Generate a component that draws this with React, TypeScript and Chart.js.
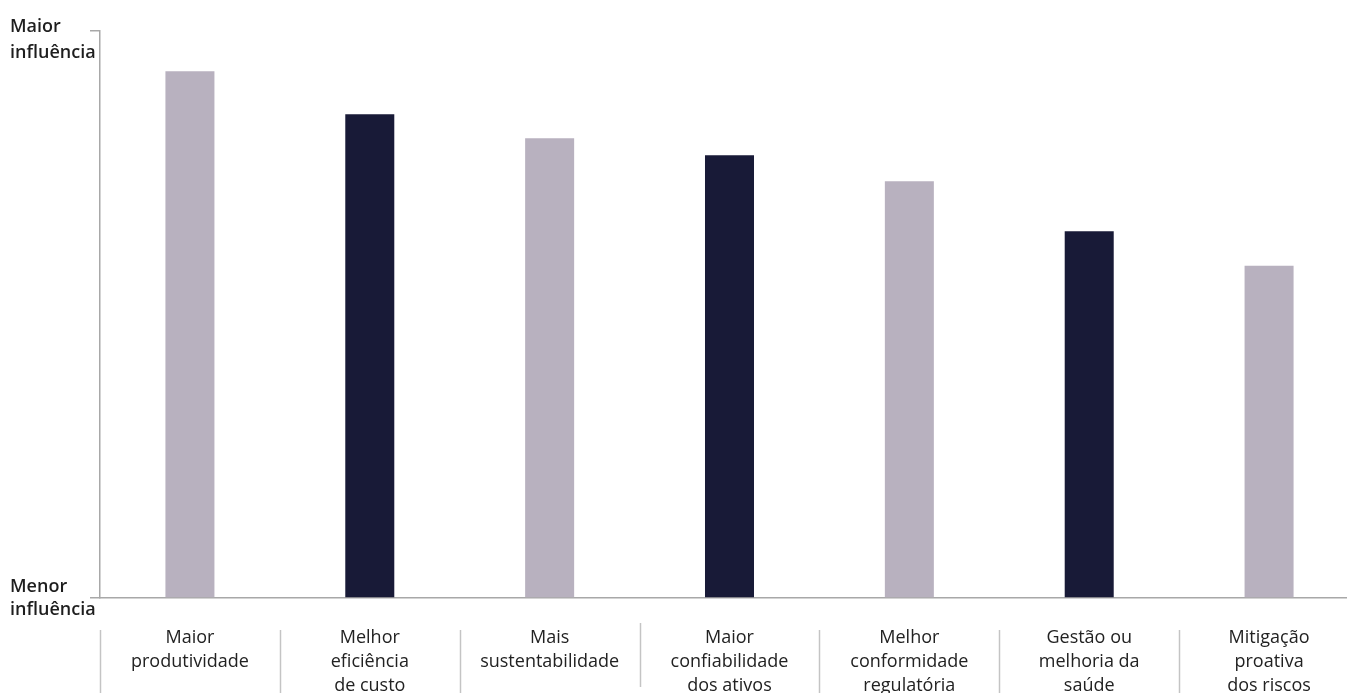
import React, { useEffect, useRef } from "react";
import { Chart, registerables } from "chart.js";

Chart.register(...registerables);

const categories: string[][] = [
  ["Maior", "produtividade"],
  ["Melhor", "eficiência", "de custo"],
  ["Mais", "sustentabilidade"],
  ["Maior", "confiabilidade", "dos ativos"],
  ["Melhor", "conformidade", "regulatória"],
  ["Gestão ou", "melhoria da", "saúde"],
  ["Mitigação", "proativa", "dos riscos"],
];
const influenceValues: number[] = [92.9, 85.3, 81.1, 78.1, 73.5, 64.7, 58.6];
const barColors: string[] = ["#b8b1bf", "#181a37", "#b8b1bf", "#181a37", "#b8b1bf", "#181a37", "#b8b1bf"];
const topLabel: string[] = ["Maior", "influência"];
const bottomLabel: string[] = ["Menor", "influência"];
const yMin = 0;
const yMax = 100;

const FONT = "'Open Sans', 'Noto Sans', sans-serif";

const decorPlugin = {
  id: "decor",
  afterDraw(chart: any) {
    const ctx = chart.ctx;
    const x = chart.scales.x;
    const y = chart.scales.y;
    ctx.save();
    // separators between category labels
    const n = categories.length;
    const half = (x.getPixelForValue(1) - x.getPixelForValue(0)) / 2;
    ctx.strokeStyle = "#c4c4c4";
    ctx.lineWidth = 1.5;
    for (let i = 0; i < n; i++) {
      const px = Math.round(x.getPixelForValue(i) - half) + 0.5;
      const top = i === 3 ? y.bottom + 25 : y.bottom + 32;
      const bot = i === 3 ? y.bottom + 89 : y.bottom + 96;
      ctx.beginPath();
      ctx.moveTo(px, top);
      ctx.lineTo(px, bot);
      ctx.stroke();
    }
    // y end labels
    ctx.fillStyle = "#1e1e1e";
    ctx.font = `600 18px ${FONT}`;
    ctx.textAlign = "left";
    ctx.textBaseline = "alphabetic";
    const yt = y.getPixelForValue(yMax);
    ctx.fillText(topLabel[0], 10, yt + 1);
    ctx.fillText(topLabel[1], 10, yt + 27);
    const yb = y.getPixelForValue(yMin);
    ctx.fillText(bottomLabel[0], 10, yb - 6);
    ctx.fillText(bottomLabel[1], 10, yb + 17);
    ctx.restore();
  },
};

export default function App() {
  const ref = useRef<HTMLCanvasElement | null>(null);
  useEffect(() => {
    if (!ref.current) return;
    const chart = new Chart(ref.current, {
      type: "bar",
      data: {
        labels: categories,
        datasets: [
          {
            data: influenceValues,
            backgroundColor: barColors,
            borderWidth: 0,
            barPercentage: 1,
            categoryPercentage: 0.2725,
          },
        ],
      },
      options: {
        animation: false,
        responsive: true,
        maintainAspectRatio: false,
        layout: { padding: { top: 31, left: 0, right: 0, bottom: 0 } },
        plugins: { legend: { display: false }, tooltip: { enabled: false } },
        scales: {
          x: {
            grid: { display: false, drawTicks: false },
            border: { display: true, color: "#a8a8a8", width: 1.5 },
            ticks: {
              color: "#222222",
              font: { family: FONT, size: 18, lineHeight: 1.333 },
              padding: 28,
              maxRotation: 0,
              autoSkip: false,
            },
            afterFit(scale: any) {
              scale.height = 95;
            },
          },
          y: {
            min: yMin,
            max: yMax,
            grid: { drawOnChartArea: false, drawTicks: true, tickLength: 10, color: "#a8a8a8", lineWidth: 1.5 },
            border: { display: true, color: "#a8a8a8", width: 1.5 },
            ticks: { display: false },
            afterBuildTicks(scale: any) {
              scale.ticks = [{ value: yMin }, { value: yMax }];
            },
            afterFit(scale: any) {
              scale.width = 100;
            },
          },
        },
      },
      plugins: [decorPlugin],
    });
    return () => chart.destroy();
  }, []);
  return (
    <div style={{ position: "fixed", left: 0, top: 0, width: 1347, height: 693, overflow: "hidden", background: "#fff" }}>
      <div style={{ position: "relative", width: 1359, height: 693 }}>
        <canvas ref={ref} />
      </div>
    </div>
  );
}
